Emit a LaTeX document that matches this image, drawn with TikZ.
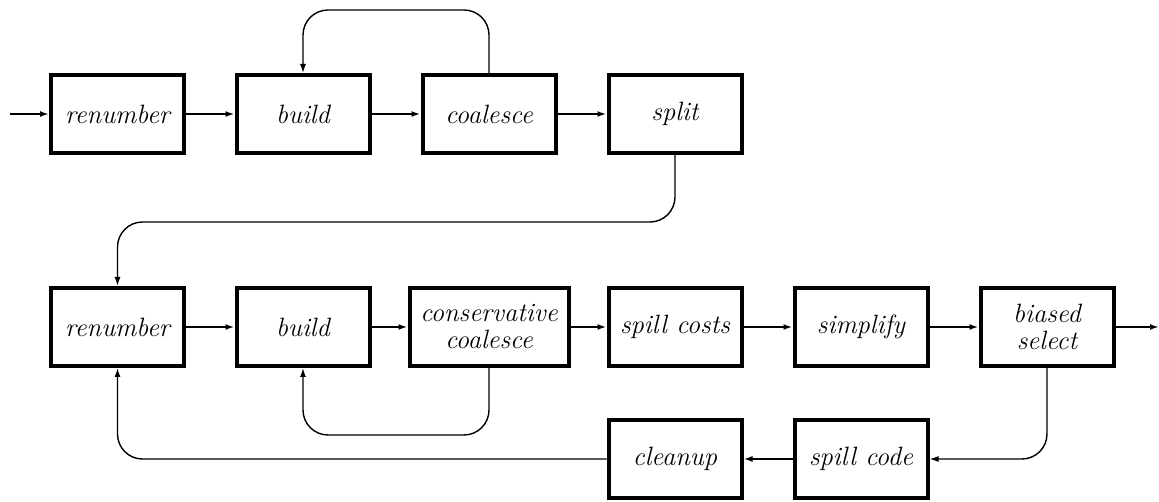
\documentclass[tikz,border=0pt]{standalone}
\usetikzlibrary{arrows.meta}
\begin{document}
\begin{tikzpicture}[x=1pt,y=-1pt,
  stage/.style={draw, line width=4pt, rectangle, minimum width=133pt, minimum height=78pt,
    inner sep=0pt, align=center, font=\fontsize{26.5}{27}\selectfont\itshape},
  flow/.style={line width=2pt, -{Latex[length=9pt,width=6pt]}},
  loopback/.style={line width=1.4pt, rounded corners=25pt, -{Latex[length=9pt,width=6pt]}}]
\useasboundingbox (0,0) rectangle (1159,502);

% first pass
\node[stage] (r1) at (117.5,114) {renumber};
\node[stage] (b1) at (303,114) {build};
\node[stage] (c1) at (489,114) {coalesce};
\node[stage] (s1) at (675,114) {split};

% second pass
\node[stage] (r2) at (117.5,327) {renumber};
\node[stage] (b2) at (303,327) {build};
\node[stage, minimum width=159pt] (cc) at (489,327) {conservative\\coalesce};
\node[stage] (sc) at (675,327) {spill costs};
\node[stage] (si) at (861,327) {simplify};
\node[stage] (bs) at (1047,327) {biased\\select};

% spill path
\node[stage] (sp) at (861,459) {spill code};
\node[stage] (cl) at (675,459) {cleanup};

\coordinate (in) at (10,114);
\coordinate (out) at (1159,327);

\draw[flow] (in) -- (r1);
\draw[flow] (r1) -- (b1);
\draw[flow] (b1) -- (c1);
\draw[flow] (c1) -- (s1);
\draw[loopback] (c1.north) -- (c1.north |- 0,10) -- (b1.north |- 0,10) -- (b1.north);

\draw[loopback] (s1.south) -- (s1.south |- 0,222) -- (r2.north |- 0,222) -- (r2.north);

\draw[flow] (r2) -- (b2);
\draw[flow] (b2) -- (cc);
\draw[flow] (cc) -- (sc);
\draw[flow] (sc) -- (si);
\draw[flow] (si) -- (bs);
\draw[flow] (bs) -- (out);
\draw[loopback] (cc.south) -- (cc.south |- 0,435) -- (b2.south |- 0,435) -- (b2.south);

\draw[loopback] (bs.south) |- (sp.east);
\draw[flow] (sp) -- (cl);
\draw[loopback] (cl.west) -| (r2.south);
\end{tikzpicture}
\end{document}
